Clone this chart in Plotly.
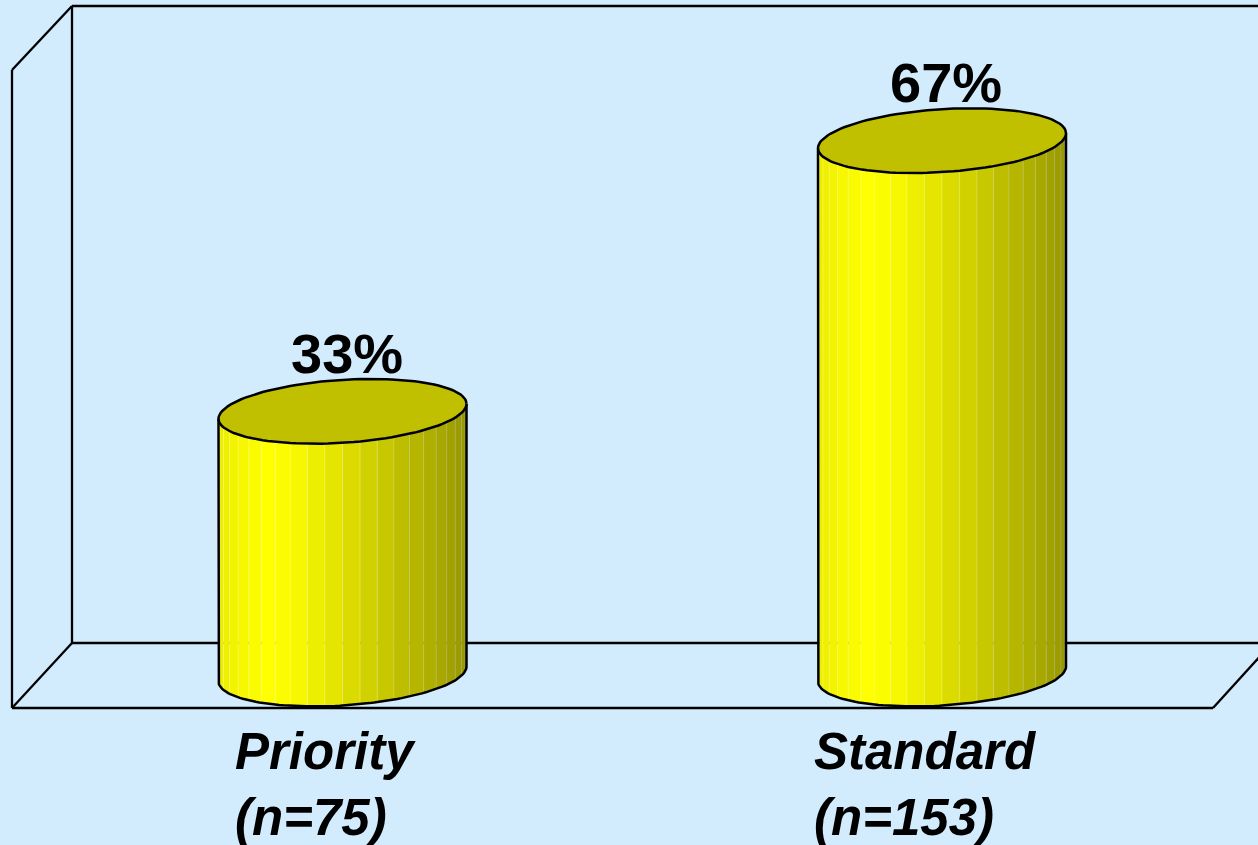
import numpy as np
import plotly.graph_objects as go

# ---------------- data ----------------
categories = ["Priority", "Standard"]
sample_sizes = [75, 153]
percent_values = [33, 67]

# ---------------- styling / calibration ----------------
W, H = 1258, 845
BG = "#D2ECFD"
X_CENTER0_PX, X_SPACING_PX = 342.5, 599.5
Y0_PX, Y_SCALE = 674.0, 7.96            # pixel of value 0, pixels per percent
x_range = [-X_CENTER0_PX / X_SPACING_PX, (W - X_CENTER0_PX) / X_SPACING_PX]
y_range = [-(H - Y0_PX) / Y_SCALE, Y0_PX / Y_SCALE]

half_w = 124.0 / X_SPACING_PX            # cylinder radius (x units)
ell_b = 31.5 / Y_SCALE                  # ellipse half height (y units)
tilt = 7.5 / Y_SCALE                    # perspective tilt of ellipses
N_STRIPS = 22
shade_pos = [0, .1, .2, .3, .4, .5, .6, .7, .8, .9, 1.0]
shade_val = [236, 247, 255, 250, 237, 224, 210, 196, 182, 168, 150]
TOP_COLOR = "rgb(192,192,0)"

fig = go.Figure()

for i, v in enumerate(percent_values):
    cx = i
    # body strips
    for k in range(N_STRIPS):
        ta = np.pi - k * np.pi / N_STRIPS
        tb = np.pi - (k + 1) * np.pi / N_STRIPS
        th = np.linspace(ta, tb, 5)
        tm = 0.5 * (ta + tb)
        frac = (1 + np.cos(tm)) / 2
        c = int(round(np.interp(frac, shade_pos, shade_val)))
        xs_b = cx + half_w * np.cos(th)
        ys_b = 0 - ell_b * np.sin(th) + tilt * np.cos(th)
        xs_t = xs_b[::-1]
        ys_t = v + tilt * np.cos(th[::-1])
        xs = np.concatenate([xs_b, xs_t, xs_b[:1]])
        ys = np.concatenate([ys_b, ys_t, ys_b[:1]])
        fig.add_trace(go.Scatter(
            x=xs, y=ys, mode="lines", fill="toself",
            fillcolor=f"rgb({c},{c},0)",
            line=dict(color=f"rgba({min(255, c + 25)},{min(255, c + 25)},120,0.5)", width=0.7),
            hoverinfo="skip", showlegend=False))
    # body outline
    th = np.linspace(np.pi, 0, 80)
    xs = np.concatenate([[cx - half_w], cx + half_w * np.cos(th), [cx + half_w]])
    ys = np.concatenate([[v - tilt], 0 - ell_b * np.sin(th) + tilt * np.cos(th), [v + tilt]])
    fig.add_trace(go.Scatter(x=xs, y=ys, mode="lines",
                             line=dict(color="black", width=2.5),
                             hoverinfo="skip", showlegend=False))
    # top ellipse
    th = np.linspace(0, 2 * np.pi, 120)
    fig.add_trace(go.Scatter(
        x=cx + half_w * np.cos(th), y=v + ell_b * np.sin(th) + tilt * np.cos(th),
        mode="lines", fill="toself", fillcolor=TOP_COLOR,
        line=dict(color="black", width=2.5),
        hoverinfo="skip", showlegend=False))

# value labels
for i, v in enumerate(percent_values):
    fig.add_annotation(x=i, y=v + 7.3, xref="x", yref="y", text=f"{v}%",
                       showarrow=False, xanchor="center", yanchor="middle", xshift=4,
                       font=dict(family="Liberation Sans, Arial", size=56,
                                 color="black", weight="bold"))

# category labels
for i, (cat, n) in enumerate(zip(categories, sample_sizes)):
    fig.add_annotation(x=i, y=1 - 721 / H, xref="x", yref="paper",
                       text=f"{cat}<br>(n={n})", showarrow=False, align="left",
                       xanchor="center", yanchor="top", xshift=-17,
                       font=dict(family="Liberation Sans, Arial", size=51,
                                 color="black", weight="bold", style="italic"))

# 3D frame (pixel coords -> paper)
def P(px, py):
    return px / W, 1 - py / H

frame = [
    ((72, 6), (W + 5, 6)),       # back wall top
    ((72, 6), (72, 643)),        # back wall left edge
    ((72, 643), (W + 5, 643)),   # back floor edge
    ((12, 70), (72, 6)),         # left wall top diagonal
    ((12, 70), (12, 708)),       # left wall front edge
    ((12, 708), (72, 643)),      # floor left diagonal
    ((12, 708), (1213, 708)),    # floor front edge
    ((1213, 708), (1272, 643)),  # floor right diagonal
]
for (a, b) in frame:
    x0, y0 = P(*a)
    x1, y1 = P(*b)
    fig.add_shape(type="line", xref="paper", yref="paper", x0=x0, y0=y0, x1=x1, y1=y1,
                  line=dict(color="black", width=2.3), layer="below")

fig.update_layout(
    width=W, height=H, margin=dict(l=0, r=0, t=0, b=0),
    paper_bgcolor=BG, plot_bgcolor="rgba(0,0,0,0)",
    xaxis=dict(range=x_range, visible=False, fixedrange=True),
    yaxis=dict(range=y_range, visible=False, fixedrange=True),
    showlegend=False,
)

fig.write_html("out.html")
